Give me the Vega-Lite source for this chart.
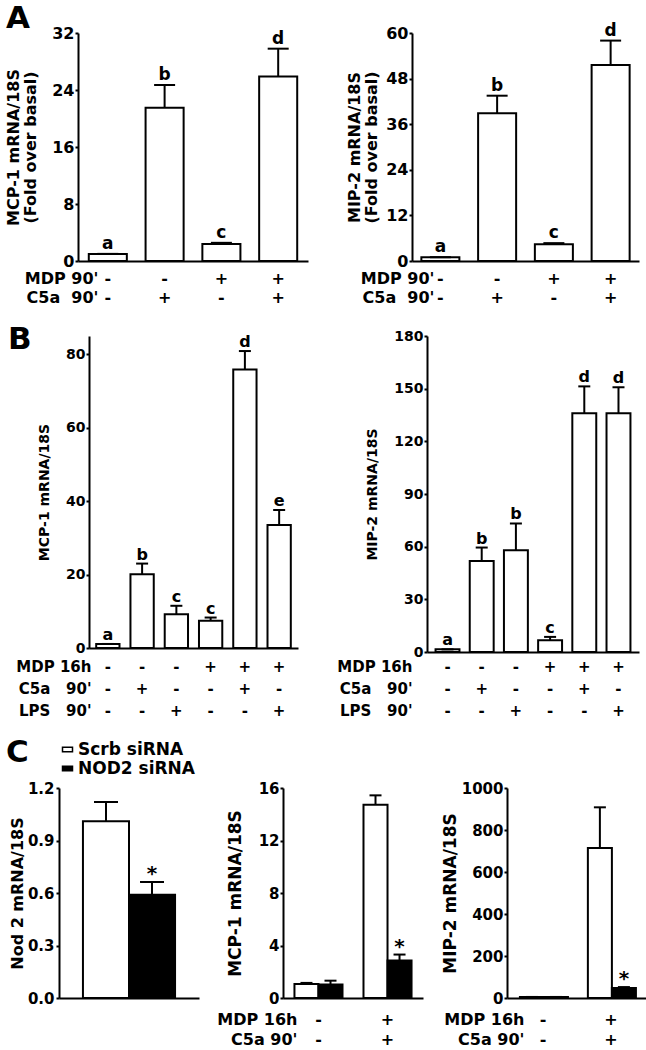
{
  "$schema": "https://vega.github.io/schema/vega-lite/v6.json",
  "padding": {"left": 5, "top": 2, "right": 0, "bottom": 0},
  "background": "white",
  "config": {
    "font": "DejaVu Sans",
    "view": {"stroke": null},
    "axis": {"domainColor": "black", "domainWidth": 2, "tickColor": "black", "tickWidth": 2, "labelColor": "black", "titleColor": "black", "labelFontWeight": "bold", "titleFontWeight": "bold", "grid": false, "labelFont": "DejaVu Sans", "titleFont": "DejaVu Sans"},
    "title": {"font": "DejaVu Sans", "fontWeight": "bold", "color": "black"},
    "text": {"font": "DejaVu Sans", "fontWeight": "bold", "color": "black"}
  },
  "datasets": {
    "aL": [
      {"cond": "-|-", "mean": 1.0, "upper": 1.0, "letter": "a"},
      {"cond": "-|+", "mean": 21.5, "upper": 24.7, "letter": "b"},
      {"cond": "+|-", "mean": 2.4, "upper": 2.55, "letter": "c"},
      {"cond": "+|+", "mean": 25.9, "upper": 29.8, "letter": "d"}
    ],
    "aR": [
      {"cond": "-|-", "mean": 1.0, "upper": 1.0, "letter": "a"},
      {"cond": "-|+", "mean": 38.9, "upper": 43.5, "letter": "b"},
      {"cond": "+|-", "mean": 4.4, "upper": 4.7, "letter": "c"},
      {"cond": "+|+", "mean": 51.6, "upper": 58.0, "letter": "d"}
    ],
    "bL": [
      {"cond": "-|-|-", "mean": 1.1, "upper": 1.1, "letter": "a"},
      {"cond": "-|+|-", "mean": 20.1, "upper": 23.0, "letter": "b"},
      {"cond": "-|-|+", "mean": 9.2, "upper": 11.5, "letter": "c"},
      {"cond": "+|-|-", "mean": 7.4, "upper": 8.3, "letter": "c"},
      {"cond": "+|+|-", "mean": 75.9, "upper": 80.9, "letter": "d"},
      {"cond": "+|-|+", "mean": 33.5, "upper": 37.6, "letter": "e"}
    ],
    "bR": [
      {"cond": "-|-|-", "mean": 1.5, "upper": 1.5, "letter": "a"},
      {"cond": "-|+|-", "mean": 51.8, "upper": 59.5, "letter": "b"},
      {"cond": "-|-|+", "mean": 57.9, "upper": 73.2, "letter": "b"},
      {"cond": "+|-|-", "mean": 6.7, "upper": 8.6, "letter": "c"},
      {"cond": "+|+|-", "mean": 136, "upper": 151.3, "letter": "d"},
      {"cond": "+|-|+", "mean": 136, "upper": 150.8, "letter": "d"}
    ],
    "cL": [
      {"siRNA": "Scrb siRNA", "mean": 1.01, "upper": 1.12, "mark": ""},
      {"siRNA": "NOD2 siRNA", "mean": 0.59, "upper": 0.663, "mark": "*"}
    ],
    "cM": [
      {"cond": "-|-", "siRNA": "Scrb siRNA", "mean": 1.07, "upper": 1.15, "mark": ""},
      {"cond": "-|-", "siRNA": "NOD2 siRNA", "mean": 1.02, "upper": 1.32, "mark": ""},
      {"cond": "+|+", "siRNA": "Scrb siRNA", "mean": 14.72, "upper": 15.44, "mark": ""},
      {"cond": "+|+", "siRNA": "NOD2 siRNA", "mean": 2.86, "upper": 3.31, "mark": "*"}
    ],
    "cR": [
      {"cond": "-|-", "siRNA": "Scrb siRNA", "mean": 5, "upper": 5, "mark": ""},
      {"cond": "-|-", "siRNA": "NOD2 siRNA", "mean": 5, "upper": 5, "mark": ""},
      {"cond": "+|+", "siRNA": "Scrb siRNA", "mean": 714, "upper": 908, "mark": ""},
      {"cond": "+|+", "siRNA": "NOD2 siRNA", "mean": 48, "upper": 52, "mark": "*"}
    ]
  },
  "columns": 1,
  "align": "none",
  "bounds": "full",
  "spacing": 19,
  "concat": [
    {
      "title": {"text": "A", "anchor": "start", "frame": "group", "fontSize": 31, "dx": -53, "dy": 13, "offset": 0},
      "bounds": "flush",
      "spacing": 104,
      "hconcat": [
        {
          "width": 249, "height": 228,
          "data": {"name": "aL"},
          "encoding": {
            "x": {"field": "cond", "type": "nominal", "sort": null,
              "scale": {"range": [19, 249], "paddingInner": 0.33, "paddingOuter": 0.19},
              "axis": {"title": ["MDP 90'", "C5a\u00a0\u00a090'"], "titleFontSize": 16, "titleLineHeight": 19, "titleAlign": "right", "titleBaseline": "top", "titleAnchor": "start", "titleX": 39, "titleY": 9,
                "labelExpr": "split(datum.value, '|')", "labelAngle": 0, "labelFontSize": 16, "labelLineHeight": 19, "labelPadding": 9, "ticks": false, "tickSize": 0, "labelOverlap": false}}
          },
          "layer": [
            {"mark": {"type": "bar", "fill": "white", "stroke": "black", "strokeWidth": 2},
             "encoding": {"y": {"field": "mean", "type": "quantitative", "scale": {"domain": [0, 32], "nice": false},
               "axis": {"offset": -19, "title": ["MCP-1 mRNA/18S", "(Fold over basal)"], "values": [0, 8, 16, 24, 32], "labelFontSize": 16, "titleFontSize": 16, "titleLineHeight": 17, "tickSize": 3, "labelPadding": 1, "titlePadding": 13}}}},
            {"mark": {"type": "rule", "color": "black", "strokeWidth": 2},
             "encoding": {"y": {"field": "mean", "type": "quantitative"}, "y2": {"field": "upper"}}},
            {"mark": {"type": "tick", "color": "black", "opacity": 1, "thickness": 2, "size": 21},
             "encoding": {"y": {"field": "upper", "type": "quantitative"}}},
            {"mark": {"type": "text", "baseline": "alphabetic", "dy": -5, "fontSize": 17},
             "encoding": {"y": {"field": "upper", "type": "quantitative"}, "text": {"field": "letter"}}}
          ]
        },
        {
          "width": 227, "height": 228,
          "data": {"name": "aR"},
          "encoding": {
            "x": {"field": "cond", "type": "nominal", "sort": null,
              "scale": {"paddingInner": 0.33, "paddingOuter": 0.165},
              "axis": {"title": ["MDP 90'", "C5a\u00a0\u00a090'"], "titleFontSize": 16, "titleLineHeight": 19, "titleAlign": "right", "titleBaseline": "top", "titleAnchor": "start", "titleX": 22, "titleY": 9,
                "labelExpr": "split(datum.value, '|')", "labelAngle": 0, "labelFontSize": 16, "labelLineHeight": 19, "labelPadding": 9, "ticks": false, "tickSize": 0, "labelOverlap": false}}
          },
          "layer": [
            {"mark": {"type": "bar", "fill": "white", "stroke": "black", "strokeWidth": 2},
             "encoding": {"y": {"field": "mean", "type": "quantitative", "scale": {"domain": [0, 60], "nice": false},
               "axis": {"title": ["MIP-2 mRNA/18S", "(Fold over basal)"], "values": [0, 12, 24, 36, 48, 60], "labelFontSize": 16, "titleFontSize": 16, "titleLineHeight": 17, "tickSize": 3, "labelPadding": 1, "titlePadding": 6}}}},
            {"mark": {"type": "rule", "color": "black", "strokeWidth": 2},
             "encoding": {"y": {"field": "mean", "type": "quantitative"}, "y2": {"field": "upper"}}},
            {"mark": {"type": "tick", "color": "black", "opacity": 1, "thickness": 2, "size": 21},
             "encoding": {"y": {"field": "upper", "type": "quantitative"}}},
            {"mark": {"type": "text", "baseline": "alphabetic", "dy": -5, "fontSize": 17},
             "encoding": {"y": {"field": "upper", "type": "quantitative"}, "text": {"field": "letter"}}}
          ]
        }
      ]
    },
    {
      "title": {"text": "B", "anchor": "start", "frame": "group", "fontSize": 31, "dx": -51, "dy": 27, "offset": 0},
      "bounds": "flush",
      "spacing": 129,
      "hconcat": [
        {
          "width": 239, "height": 312,
          "data": {"name": "bL"},
          "encoding": {
            "x": {"field": "cond", "type": "nominal", "sort": null,
              "scale": {"range": [30, 239], "paddingInner": 0.32, "paddingOuter": 0.21},
              "axis": {"title": ["MDP 16h", "C5a\u00a0\u00a0\u00a090'", "LPS\u00a0\u00a0\u00a090'"], "titleFontSize": 15, "titleLineHeight": 22, "titleAlign": "right", "titleBaseline": "top", "titleAnchor": "start", "titleX": 32, "titleY": 11,
                "labelExpr": "split(datum.value, '|')", "labelAngle": 0, "labelFontSize": 15, "labelLineHeight": 22, "labelPadding": 11, "ticks": false, "tickSize": 0, "labelOverlap": false}}
          },
          "layer": [
            {"mark": {"type": "bar", "fill": "white", "stroke": "black", "strokeWidth": 2},
             "encoding": {"y": {"field": "mean", "type": "quantitative", "scale": {"domain": [0, 85], "nice": false},
               "axis": {"offset": -30, "title": "MCP-1 mRNA/18S", "values": [0, 10, 20, 30, 40, 50, 60, 70, 80], "labelFontSize": 14, "titleFontSize": 14, "tickSize": 3, "labelPadding": 1, "titlePadding": 14}}}},
            {"mark": {"type": "rule", "color": "black", "strokeWidth": 2},
             "encoding": {"y": {"field": "mean", "type": "quantitative"}, "y2": {"field": "upper"}}},
            {"mark": {"type": "tick", "color": "black", "opacity": 1, "thickness": 2, "size": 12},
             "encoding": {"y": {"field": "upper", "type": "quantitative"}}},
            {"mark": {"type": "text", "baseline": "alphabetic", "dy": -4, "fontSize": 16},
             "encoding": {"y": {"field": "upper", "type": "quantitative"}, "text": {"field": "letter"}}}
          ]
        },
        {
          "width": 212, "height": 316,
          "data": {"name": "bR"},
          "encoding": {
            "x": {"field": "cond", "type": "nominal", "sort": null,
              "scale": {"paddingInner": 0.3, "paddingOuter": 0.25},
              "axis": {"title": ["MDP 16h", "C5a\u00a0\u00a0\u00a090'", "LPS\u00a0\u00a0\u00a090'"], "titleFontSize": 15, "titleLineHeight": 22, "titleAlign": "right", "titleBaseline": "top", "titleAnchor": "start", "titleX": -15, "titleY": 7,
                "labelExpr": "split(datum.value, '|')", "labelAngle": 0, "labelFontSize": 15, "labelLineHeight": 22, "labelPadding": 7, "ticks": false, "tickSize": 0, "labelOverlap": false}}
          },
          "layer": [
            {"mark": {"type": "bar", "fill": "white", "stroke": "black", "strokeWidth": 2},
             "encoding": {"y": {"field": "mean", "type": "quantitative", "scale": {"domain": [0, 180], "nice": false},
               "axis": {"title": "MIP-2 mRNA/18S", "values": [0, 30, 60, 90, 120, 150, 180], "labelFontSize": 14, "titleFontSize": 14, "tickSize": 3, "labelPadding": 1, "titlePadding": 14}}}},
            {"mark": {"type": "rule", "color": "black", "strokeWidth": 2},
             "encoding": {"y": {"field": "mean", "type": "quantitative"}, "y2": {"field": "upper"}}},
            {"mark": {"type": "tick", "color": "black", "opacity": 1, "thickness": 2, "size": 12},
             "encoding": {"y": {"field": "upper", "type": "quantitative"}}},
            {"mark": {"type": "text", "baseline": "alphabetic", "dy": -4, "fontSize": 16},
             "encoding": {"y": {"field": "upper", "type": "quantitative"}, "text": {"field": "letter"}}}
          ]
        }
      ]
    },
    {
      "title": {"text": "C", "anchor": "start", "frame": "group", "fontSize": 31, "dx": -53, "dy": 28, "offset": 0},
      "bounds": "flush",
      "spacing": 84,
      "resolve": {"scale": {"fill": "independent"}},
      "hconcat": [
        {
          "width": 140, "height": 210,
          "data": {"name": "cL"},
          "encoding": {
            "x": {"field": "siRNA", "type": "nominal", "sort": ["Scrb siRNA", "NOD2 siRNA"],
              "scale": {"paddingInner": 0, "paddingOuter": 0.52},
              "axis": {"title": null, "labels": false, "ticks": false}}
          },
          "layer": [
            {"mark": {"type": "bar", "stroke": "black", "strokeWidth": 2},
             "encoding": {
               "y": {"field": "mean", "type": "quantitative", "scale": {"domain": [0, 1.2], "nice": false},
                 "axis": {"title": "Nod 2 mRNA/18S", "values": [0, 0.3, 0.6, 0.9, 1.2], "format": ".1f", "labelFontSize": 15, "titleFontSize": 16, "tickSize": 3, "labelPadding": 2, "titlePadding": 2}},
               "fill": {"field": "siRNA", "type": "nominal", "scale": {"domain": ["Scrb siRNA", "NOD2 siRNA"], "range": ["white", "black"]},
                 "legend": {"title": null, "orient": "top", "direction": "vertical", "symbolType": "M-1,-0.45H1V0.45H-1Z", "symbolSize": 100, "symbolStrokeColor": "black", "symbolStrokeWidth": 1.5, "labelFontSize": 17, "labelFontWeight": "bold", "labelColor": "black", "labelFont": "DejaVu Sans", "labelOffset": 2, "rowPadding": 1, "padding": 0, "offset": 11}}
             }},
            {"mark": {"type": "rule", "color": "black", "strokeWidth": 2},
             "encoding": {"y": {"field": "mean", "type": "quantitative"}, "y2": {"field": "upper"}}},
            {"mark": {"type": "tick", "color": "black", "opacity": 1, "thickness": 2, "size": 24},
             "encoding": {"y": {"field": "upper", "type": "quantitative"}}},
            {"mark": {"type": "text", "baseline": "alphabetic", "dy": -2, "fontSize": 20},
             "encoding": {"y": {"field": "upper", "type": "quantitative"}, "text": {"field": "mark"}}}
          ]
        },
        {
          "width": 140, "height": 210,
          "data": {"name": "cM"},
          "encoding": {
            "x": {"field": "cond", "type": "nominal", "sort": null,
              "scale": {"paddingInner": 0.304, "paddingOuter": 0.166},
              "axis": {"title": ["MDP 16h", "C5a 90'"], "titleFontSize": 16, "titleLineHeight": 20, "titleAlign": "right", "titleBaseline": "top", "titleAnchor": "start", "titleX": 14, "titleY": 13,
                "labelExpr": "split(datum.value, '|')", "labelAngle": 0, "labelFontSize": 16, "labelLineHeight": 20, "labelPadding": 13, "ticks": false, "tickSize": 0, "labelOverlap": false}},
            "xOffset": {"field": "siRNA", "type": "nominal", "sort": ["Scrb siRNA", "NOD2 siRNA"], "scale": {"paddingInner": 0, "paddingOuter": 0}}
          },
          "layer": [
            {"mark": {"type": "bar", "stroke": "black", "strokeWidth": 2},
             "encoding": {
               "y": {"field": "mean", "type": "quantitative", "scale": {"domain": [0, 16], "nice": false},
                 "axis": {"title": "MCP-1 mRNA/18S", "values": [0, 4, 8, 12, 16], "labelFontSize": 15, "titleFontSize": 17, "tickSize": 3, "labelPadding": 1, "titlePadding": 14}},
               "fill": {"field": "siRNA", "type": "nominal", "scale": {"domain": ["Scrb siRNA", "NOD2 siRNA"], "range": ["white", "black"]}, "legend": null}
             }},
            {"mark": {"type": "rule", "color": "black", "strokeWidth": 2},
             "encoding": {"y": {"field": "mean", "type": "quantitative"}, "y2": {"field": "upper"}}},
            {"mark": {"type": "tick", "color": "black", "opacity": 1, "thickness": 2, "size": 12},
             "encoding": {"y": {"field": "upper", "type": "quantitative"}}},
            {"mark": {"type": "text", "baseline": "alphabetic", "dy": -2, "fontSize": 20},
             "encoding": {"y": {"field": "upper", "type": "quantitative"}, "text": {"field": "mark"}}}
          ]
        },
        {
          "width": 140, "height": 210,
          "data": {"name": "cR"},
          "encoding": {
            "x": {"field": "cond", "type": "nominal", "sort": null,
              "scale": {"paddingInner": 0.32, "paddingOuter": 0.19},
              "axis": {"title": ["MDP 16h", "C5a 90'"], "titleFontSize": 16, "titleLineHeight": 20, "titleAlign": "right", "titleBaseline": "top", "titleAnchor": "start", "titleX": 17, "titleY": 13,
                "labelExpr": "split(datum.value, '|')", "labelAngle": 0, "labelFontSize": 16, "labelLineHeight": 20, "labelPadding": 13, "ticks": false, "tickSize": 0, "labelOverlap": false}},
            "xOffset": {"field": "siRNA", "type": "nominal", "sort": ["Scrb siRNA", "NOD2 siRNA"], "scale": {"paddingInner": 0, "paddingOuter": 0}}
          },
          "layer": [
            {"mark": {"type": "bar", "stroke": "black", "strokeWidth": 2},
             "encoding": {
               "y": {"field": "mean", "type": "quantitative", "scale": {"domain": [0, 1000], "nice": false},
                 "axis": {"title": "MIP-2 mRNA/18S", "values": [0, 200, 400, 600, 800, 1000], "format": "d", "labelFontSize": 15, "titleFontSize": 17, "tickSize": 3, "labelPadding": 1, "titlePadding": 2}},
               "fill": {"field": "siRNA", "type": "nominal", "scale": {"domain": ["Scrb siRNA", "NOD2 siRNA"], "range": ["white", "black"]}, "legend": null}
             }},
            {"mark": {"type": "rule", "color": "black", "strokeWidth": 2},
             "encoding": {"y": {"field": "mean", "type": "quantitative"}, "y2": {"field": "upper"}}},
            {"mark": {"type": "tick", "color": "black", "opacity": 1, "thickness": 2, "size": 12},
             "encoding": {"y": {"field": "upper", "type": "quantitative"}}},
            {"mark": {"type": "text", "baseline": "alphabetic", "dy": -2, "fontSize": 20},
             "encoding": {"y": {"field": "upper", "type": "quantitative"}, "text": {"field": "mark"}}}
          ]
        }
      ]
    }
  ]
}
